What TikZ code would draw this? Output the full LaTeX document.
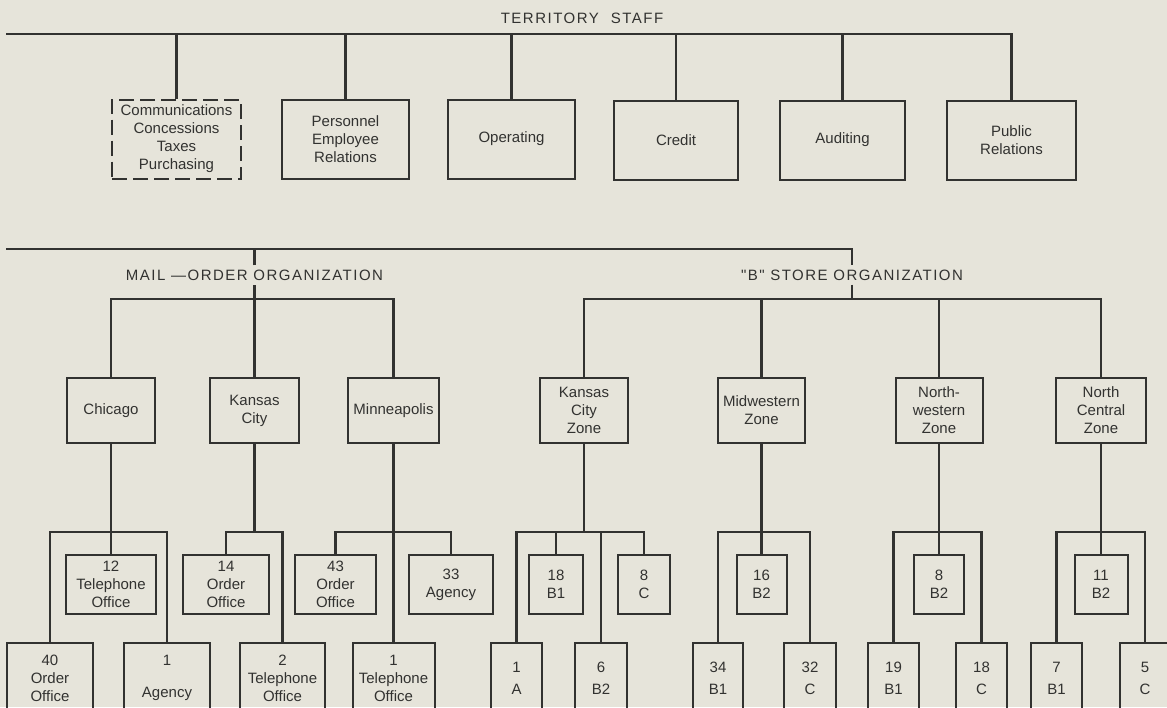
\documentclass[tikz,border=0pt]{standalone}
\usepackage{fontspec}
\setmainfont{Liberation Sans}
\newfontfamily\headfont[LetterSpace=10]{Liberation Sans}
\usepackage{tikz}
\definecolor{paper}{RGB}{230,228,218}
\definecolor{ink}{RGB}{50,50,48}

\begin{document}
\begin{tikzpicture}[x=1pt,y=-1pt,color=ink,line width=2.2pt,
  box/.style={draw,line width=2pt,align=center,inner sep=2pt,
    font=\fontsize{15}{18}\selectfont},
  topbox/.style={box,minimum width=127pt,minimum height=79pt},
  midbox/.style={box,minimum width=88pt,minimum height=65pt},
  upbox/.style={box,minimum height=59pt},
  lowbox/.style={box,minimum height=70pt},
  head/.style={font=\headfont\fontsize{15}{18}\selectfont}]
  \useasboundingbox (0,0) rectangle (1167,707);
  \fill[paper] (0,0) rectangle (1167,707);
  \clip (0,0) rectangle (1167,707);

  \node[head] (terr) at (582,18) {TERRITORY\hspace{12pt}STAFF};
  \coordinate (tl) at (6,34);
  \node[topbox,minimum width=129pt,dash pattern=on 15pt off 6pt] (comm) at (176.5,139)
    {Communications\\Concessions\\Taxes\\Purchasing};
  \node[topbox] (pers) at (345.5,139) {Personnel\\Employee\\Relations};
  \node[topbox] (oper) at (511.5,139) {Operating};
  \node[topbox,minimum width=124pt] (cred) at (676,140) {Credit};
  \node[topbox,minimum width=125pt] (audit) at (842.5,140) {Auditing};
  \node[topbox,minimum width=129pt] (pubrel) at (1011.5,140) {Public\\Relations};
  \draw (tl) -| (pubrel.north);
  \foreach \n in {comm,pers,oper,cred,audit}{
    \draw (\n.north) -- (\n.north |- tl);
  }

  \coordinate (ml) at (6,249);
  \coordinate (mbar) at (0,299);
  \node[head] (mail) at (254.5,275) {MAIL —ORDER ORGANIZATION};
  \node[head] (bstore) at (852,275) {"B" STORE ORGANIZATION};
  \node[midbox] (chi) at (111,410.5) {Chicago};
  \node[midbox,minimum width=89pt] (kc) at (254.5,410.5) {Kansas\\City};
  \node[midbox,minimum width=91pt] (minn) at (393.5,410.5) {Minneapolis};
  \node[midbox] (kcz) at (584,410.5) {Kansas\\City\\Zone};
  \node[midbox,minimum width=87pt] (mwz) at (761.5,410.5) {Midwestern\\Zone};
  \node[midbox,minimum width=87pt] (nwz) at (939,410.5) {North-\\western\\Zone};
  \node[midbox,minimum width=90pt] (ncz) at (1101,410.5) {North\\Central\\Zone};
  \draw (ml) -| (bstore.north);
  \draw (mail.north) -- (mail.north |- ml);
  \draw (chi.north) |- (mbar -| minn.north) -- (minn.north);
  \draw (kc.north) -- (mail.south);
  \draw (kcz.north) |- (mbar -| ncz.north) -- (ncz.north);
  \draw (bstore.south) -- (bstore.south |- mbar);
  \foreach \n in {mwz,nwz}{
    \draw (\n.north) -- (\n.north |- mbar);
  }

  \coordinate (lbar) at (0,532);
  \node[upbox,minimum width=90pt] (tel12) at (111,584.5) {12\\Telephone\\Office};
  \node[upbox,minimum width=86pt] (ord14) at (226,584.5) {14\\Order\\Office};
  \node[upbox,minimum width=81pt] (ord43) at (335.5,584.5) {43\\Order\\Office};
  \node[upbox,minimum width=84pt] (ag33) at (451,584.5) {33\\Agency};
  \node[upbox,minimum width=54pt] (s18) at (556,584.5) {18\\B1};
  \node[upbox,minimum width=52pt] (s8c) at (644,584.5) {8\\C};
  \node[upbox,minimum width=50pt] (s16) at (761.5,584.5) {16\\B2};
  \node[upbox,minimum width=50pt] (s8b) at (939,584.5) {8\\B2};
  \node[upbox,minimum width=53pt] (s11) at (1101,584.5) {11\\B2};

  \node[lowbox,minimum width=86pt] (ord40) at (50,678) {40\\Order\\Office};
  \node[lowbox,minimum width=86pt] (ag1) at (167,678) {1\\[14pt]Agency};
  \node[lowbox,minimum width=85pt] (tel2) at (282.5,678) {2\\Telephone\\Office};
  \node[lowbox,minimum width=82pt] (tel1) at (393.5,678) {1\\Telephone\\Office};
  \node[lowbox,minimum width=51pt] (s1a) at (516.5,678) {1\\[4pt]A};
  \node[lowbox,minimum width=52pt] (s6) at (601,678) {6\\[4pt]B2};
  \node[lowbox,minimum width=50pt] (s34) at (718,678) {34\\[4pt]B1};
  \node[lowbox,minimum width=52pt] (s32) at (810,678) {32\\[4pt]C};
  \node[lowbox,minimum width=51pt] (s19) at (893.5,678) {19\\[4pt]B1};
  \node[lowbox,minimum width=51pt] (s18c) at (981.5,678) {18\\[4pt]C};
  \node[lowbox,minimum width=51pt] (s7) at (1056.5,678) {7\\[4pt]B1};
  \node[lowbox,minimum width=50pt] (s5) at (1145,678) {5\\[4pt]C};

  \draw (ord40.north) |- (lbar -| ag1.north) -- (ag1.north);
  \draw (chi.south) -- (tel12.north);
  \draw (ord14.north) |- (lbar -| tel2.north) -- (tel2.north);
  \draw (kc.south) -- (kc.south |- lbar);
  \draw (ord43.north) |- (lbar -| ag33.north) -- (ag33.north);
  \draw (minn.south) -- (tel1.north);
  \draw (s1a.north) |- (lbar -| s8c.north) -- (s8c.north);
  \draw (kcz.south) -- (kcz.south |- lbar);
  \foreach \n in {s18,s6}{
    \draw (\n.north) -- (\n.north |- lbar);
  }
  \draw (s34.north) |- (lbar -| s32.north) -- (s32.north);
  \draw (mwz.south) -- (s16.north);
  \draw (s19.north) |- (lbar -| s18c.north) -- (s18c.north);
  \draw (nwz.south) -- (s8b.north);
  \draw (s7.north) |- (lbar -| s5.north) -- (s5.north);
  \draw (ncz.south) -- (s11.north);
\end{tikzpicture}
\end{document}
